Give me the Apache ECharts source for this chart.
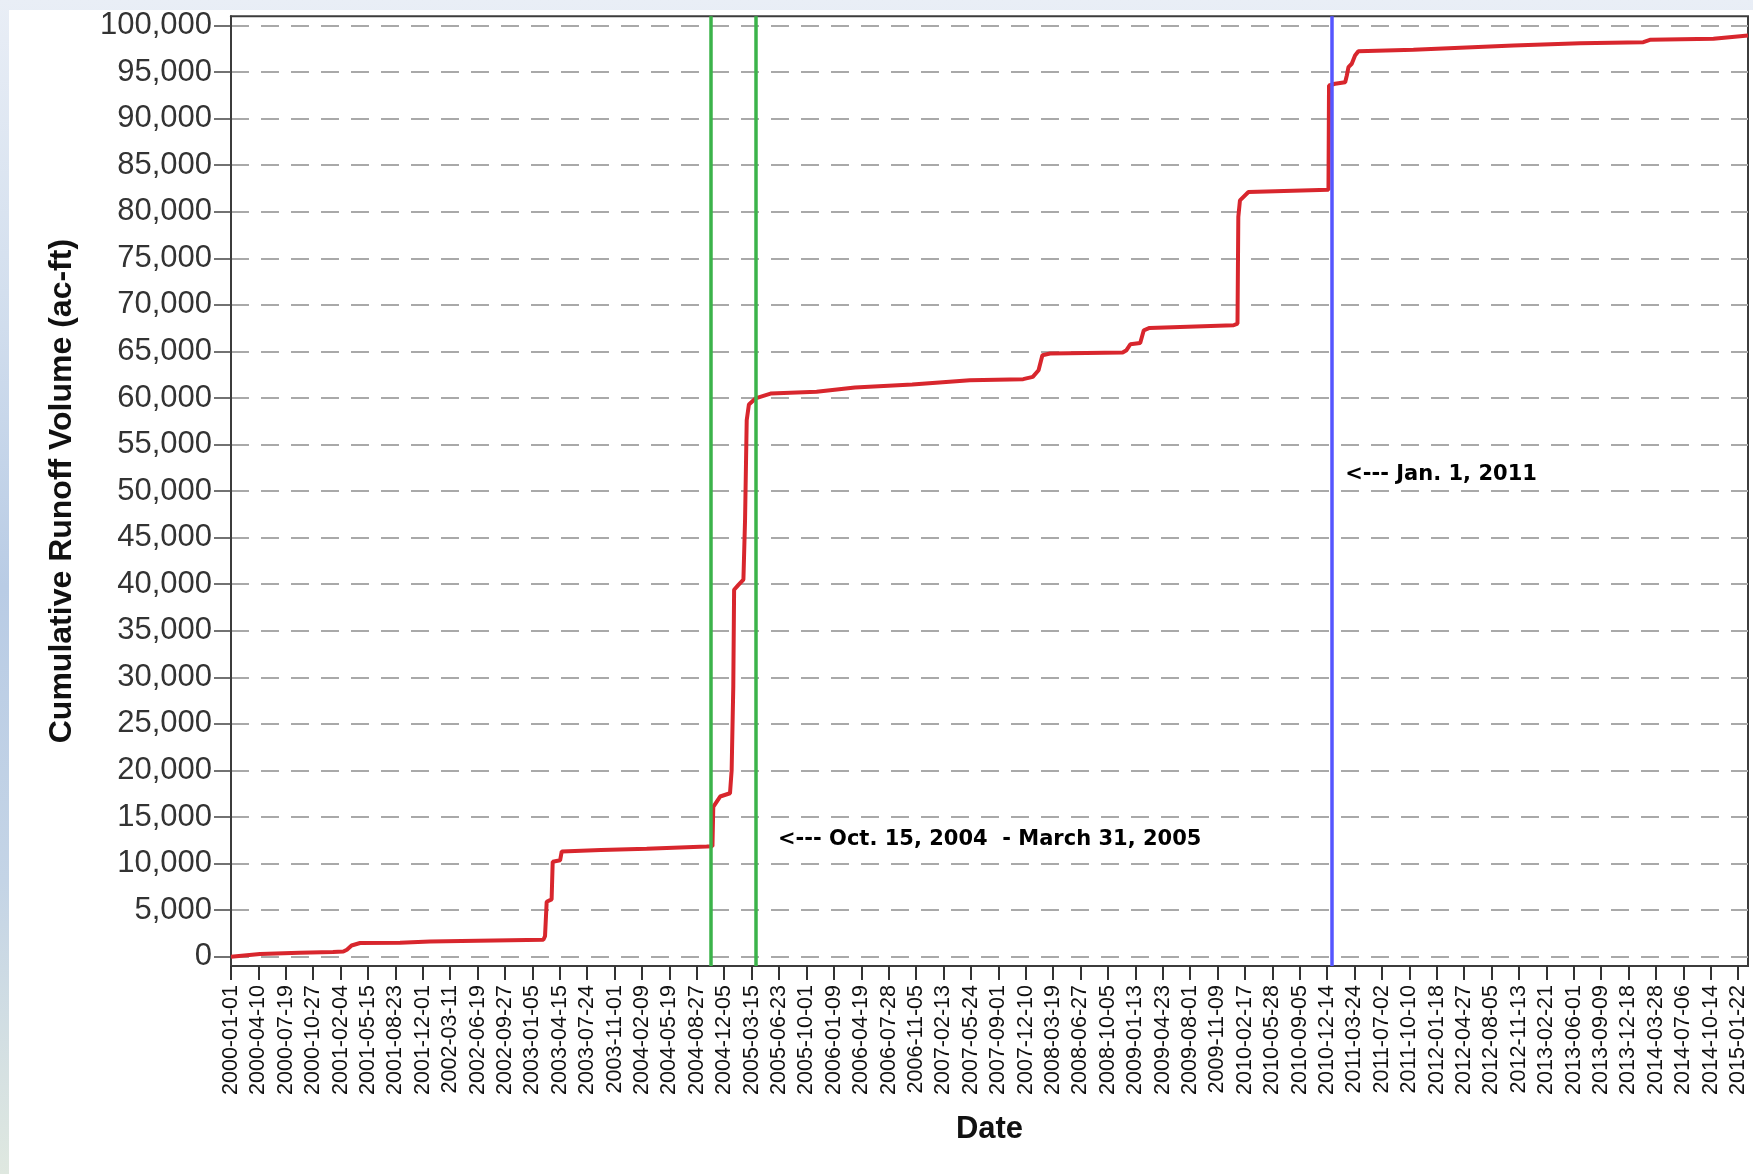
<!DOCTYPE html>
<html>
<head>
<meta charset="utf-8">
<script src="https://cdn.jsdelivr.net/npm/echarts@6/dist/echarts.min.js"></script>
<style>
  html, body {
    margin: 0; padding: 0; width: 1753px; height: 1174px; overflow: hidden;
    background: linear-gradient(to bottom, #e9eef6 0%, #d3dfee 25%, #b9cce5 50%, #c4d4e6 75%, #dfe8e0 100%);
  }
  #chart { position: absolute; left: 9px; top: 10px; width: 1744px; height: 1164px; background: #ffffff; }
</style>
</head>
<body>
<div id="chart"></div>
<script>
// Date tick labels, one every 100 days
const tickDates = [
  '2000-01-01','2000-04-10','2000-07-19','2000-10-27','2001-02-04','2001-05-15','2001-08-23','2001-12-01',
  '2002-03-11','2002-06-19','2002-09-27','2003-01-05','2003-04-15','2003-07-24','2003-11-01','2004-02-09',
  '2004-05-19','2004-08-27','2004-12-05','2005-03-15','2005-06-23','2005-10-01','2006-01-09','2006-04-19',
  '2006-07-28','2006-11-05','2007-02-13','2007-05-24','2007-09-01','2007-12-10','2008-03-19','2008-06-27',
  '2008-10-05','2009-01-13','2009-04-23','2009-08-01','2009-11-09','2010-02-17','2010-05-28','2010-09-05',
  '2010-12-14','2011-03-24','2011-07-02','2011-10-10','2012-01-18','2012-04-27','2012-08-05','2012-11-13',
  '2013-02-21','2013-06-01','2013-09-09','2013-12-18','2014-03-28','2014-07-06','2014-10-14','2015-01-22'
];

// Volume tick values (ac-ft)
const volumeTicks = [0, 5000, 10000, 15000, 20000, 25000, 30000, 35000, 40000, 45000, 50000,
  55000, 60000, 65000, 70000, 75000, 80000, 85000, 90000, 95000, 100000];

// Cumulative runoff volume record
const flowDates = [
  '2000-01-01','2000-04-16','2000-09-07','2001-01-07','2001-02-14','2001-02-27','2001-03-16','2001-04-16',
  '2001-09-09','2001-12-27','2002-06-19','2003-02-14','2003-02-20','2003-02-26','2003-03-16','2003-03-20',
  '2003-04-16','2003-04-22','2003-09-12','2004-02-26','2004-10-02','2004-10-23','2004-10-26','2004-11-20',
  '2004-12-26','2005-01-01','2005-01-07','2005-01-10','2005-01-25','2005-02-13','2005-02-19','2005-02-25',
  '2005-03-05','2005-03-29','2005-05-23','2005-11-07','2006-03-27','2006-10-22','2007-05-20','2007-12-01',
  '2008-01-05','2008-01-26','2008-02-09','2008-03-08','2008-11-28','2008-12-12','2008-12-26','2009-01-31',
  '2009-02-13','2009-03-06','2010-01-07','2010-01-21','2010-01-24','2010-01-30','2010-03-02','2010-12-19',
  '2010-12-21','2011-01-12','2011-02-18','2011-02-24','2011-03-02','2011-03-14','2011-03-26','2011-04-07',
  '2011-10-25','2012-10-24','2013-06-24','2014-02-10','2014-03-06','2014-10-24','2015-02-27'
];
const flowVolumes = [
  0, 300, 420, 500, 560, 750, 1200, 1470,
  1500, 1640, 1720, 1820, 2200, 5900, 6150, 10200,
  10350, 11300, 11450, 11600, 11840, 11870, 16100, 17200,
  17550, 20000, 29000, 39400, 39900, 40500, 47000, 57600,
  59300, 59950, 60470, 60660, 61130, 61450, 61910, 62020,
  62270, 62980, 64590, 64770, 64880, 65130, 65770, 65910,
  67270, 67520, 67810, 67990, 79430, 81220, 82120, 82370,
  93560, 93740, 93910, 94630, 95530, 95890, 96780, 97240,
  97390, 97850, 98100, 98210, 98460, 98570, 98930
];

// Reference dates marked by vertical lines
const eventDates = ['2004-10-15', '2005-03-31', '2011-01-01'];

// Annotation notes
const noteDates = ['2005-06-19', '2011-02-18'];
const noteVolumes = [12550, 51820];
const noteTexts = ['<--- Oct. 15, 2004  - March 31, 2005', '<--- Jan. 1, 2011'];

const toTime = s => Date.UTC(+s.slice(0, 4), +s.slice(5, 7) - 1, +s.slice(8, 10));
const fmtDate = t => new Date(t).toISOString().slice(0, 10);
const fmtNum = v => Math.round(v).toLocaleString('en-US');

const axisFont = "'Liberation Sans', Arial, sans-serif";
const eventColors = ['#3bb34a', '#3bb34a', '#5656ff'];

const chart = echarts.init(document.getElementById('chart'), null, { renderer: 'canvas' });

chart.setOption({
  animation: false,
  backgroundColor: '#ffffff',
  grid: {
    left: 222, right: 5, top: 5, bottom: 208,
    show: true, borderColor: '#3c3c3c', borderWidth: 2, backgroundColor: 'transparent'
  },
  xAxis: {
    type: 'value',
    min: toTime('2000-01-01'),
    max: toTime('2015-02-27'),
    name: 'Date',
    nameLocation: 'middle',
    nameGap: 148,
    nameTextStyle: { fontFamily: axisFont, fontWeight: 'bold', fontSize: 31, color: '#111' },
    axisLine: { show: true, onZero: false, lineStyle: { color: '#3c3c3c', width: 2 } },
    axisTick: { show: true, length: 14, lineStyle: { color: '#333', width: 2 },
      customValues: tickDates.map(toTime) },
    axisLabel: {
      customValues: tickDates.map(toTime),
      rotate: 90, margin: 19,
      fontFamily: axisFont, fontSize: 21.5, color: '#111',
      formatter: v => fmtDate(v)
    },
    splitLine: { show: false }
  },
  yAxis: {
    type: 'value',
    min: -1000, max: 101000,
    name: 'Cumulative Runoff Volume (ac-ft)',
    nameLocation: 'middle',
    nameGap: 153,
    nameTextStyle: { fontFamily: axisFont, fontWeight: 'bold', fontSize: 32, color: '#111' },
    axisLine: { show: true, lineStyle: { color: '#3c3c3c', width: 2 } },
    axisTick: { show: true, length: 17, lineStyle: { color: '#444', width: 1.5 },
      customValues: volumeTicks },
    axisLabel: {
      customValues: volumeTicks,
      margin: 19,
      fontFamily: axisFont, fontSize: 31, color: '#333',
      formatter: v => fmtNum(v)
    },
    splitLine: { show: true, lineStyle: { color: '#a9a9a9', width: 2, type: [18, 12] } }
  },
  series: [
    {
      name: 'Cumulative Runoff Volume',
      type: 'line',
      z: 2,
      showSymbol: false,
      data: flowDates.map((d, i) => [toTime(d), flowVolumes[i]]),
      lineStyle: { color: '#d8262d', width: 4 },
      itemStyle: { color: '#d8262d' }
    },
    {
      name: 'Notes',
      type: 'scatter',
      z: 3,
      symbolSize: 0.1,
      itemStyle: { color: 'transparent' },
      data: noteDates.map((d, i) => [toTime(d), noteVolumes[i]]),
      label: {
        show: true, position: 'right', distance: 0,
        formatter: p => noteTexts[p.dataIndex],
        fontFamily: "'DejaVu Sans', sans-serif", fontWeight: 'bold', fontSize: 21, color: '#000000',
        opacity: 1
      },
      markLine: {
        silent: true,
        symbol: 'none',
        label: { show: false },
        data: eventDates.map((d, i) => ({
          xAxis: toTime(d),
          lineStyle: { color: eventColors[i], width: 3.5, type: 'solid' }
        }))
      }
    }
  ]
});
</script>
</body>
</html>
